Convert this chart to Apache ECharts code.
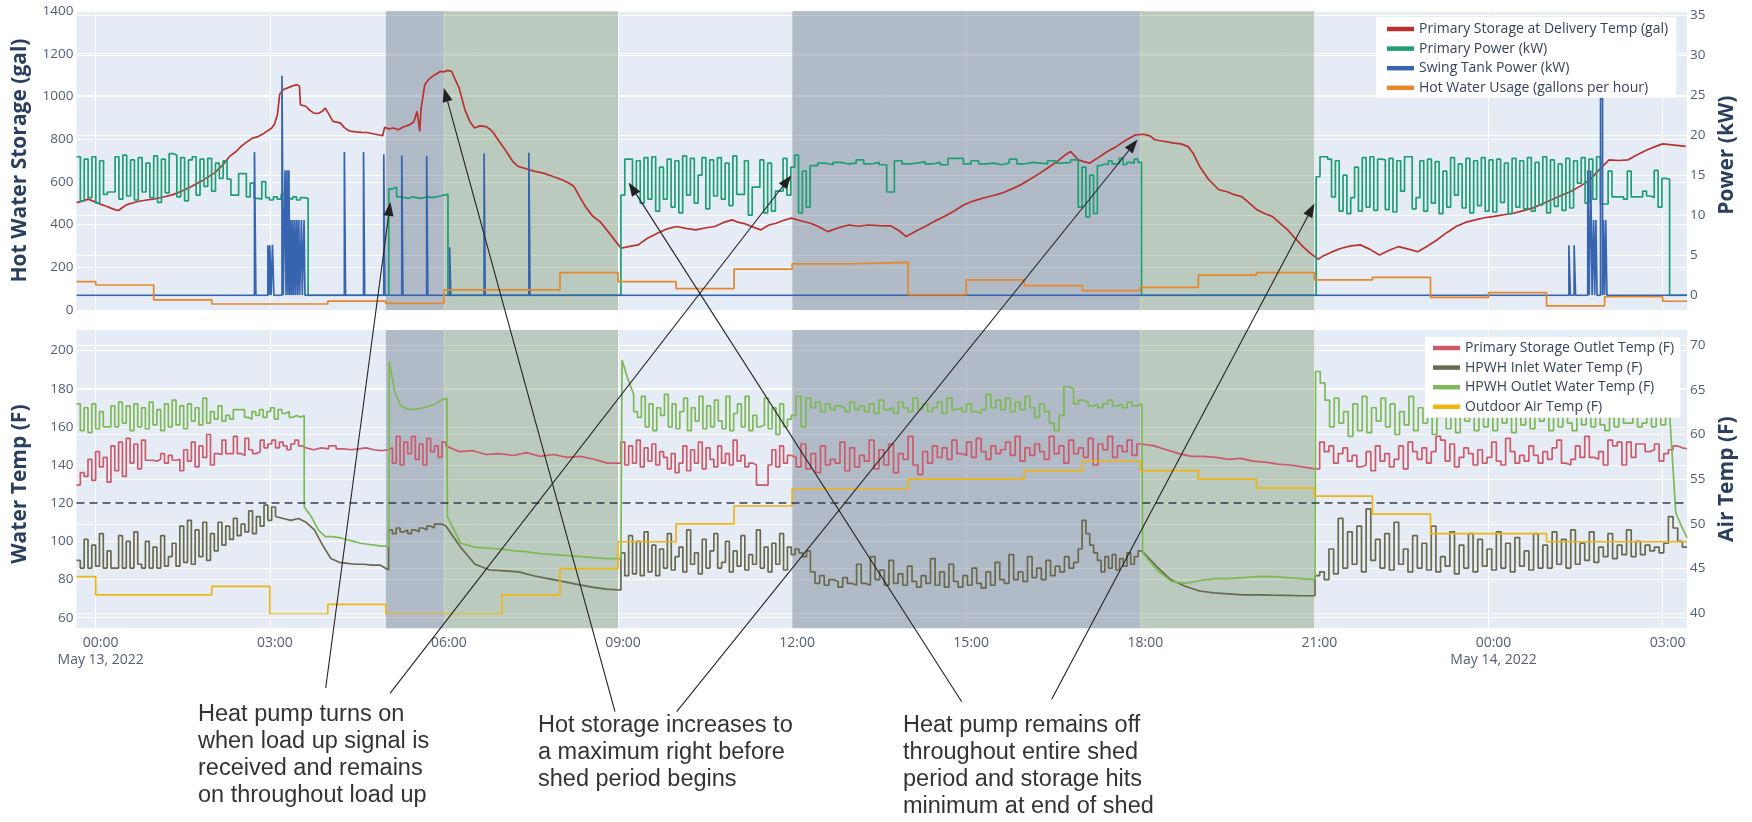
<!DOCTYPE html>
<html><head><meta charset="utf-8">
<script src="https://cdn.jsdelivr.net/npm/echarts@6/dist/echarts.min.js"></script>
<style>html,body{margin:0;padding:0;background:#fff}#c{width:1752px;height:822px}</style>
</head><body><div id="c"></div><script>
// ---------------- DATA (hours since 2022-05-13 00:00) ----------------
const hourTicks = [0, 3, 6, 9, 12, 15, 18, 21, 24, 27];
const dayLabels = { 0: 'May 13, 2022', 24: 'May 14, 2022' };
const darkPeriods = [[5, 6], [12, 18]];
const greenPeriods = [[6, 9], [18, 21]];
const thresholdF = 120;

// [hour, gallons]
const storageGal = [[-0.33,503],[-0.2,512],[-0.132,519],[0.0,505],[0.065,497],[0.16,488],[0.263,477],[0.33,470],[0.395,466],[0.46,480],[0.527,492],[0.62,500],[0.725,508],[0.85,514],[0.988,519],[1.15,528],[1.318,539],[1.48,556],[1.648,578],[1.85,608],[2.044,641],[2.18,676],[2.307,719],[2.42,742],[2.505,766],[2.6,786],[2.703,805],[2.8,812],[2.901,828],[3.033,852],[3.08,870],[3.131,914],[3.17,1010],[3.23,1031],[3.263,1034],[3.36,1046],[3.461,1055],[3.494,1063],[3.51,1050],[3.527,961],[3.56,961],[3.626,953],[3.69,935],[3.758,922],[3.83,920],[3.9,930],[3.956,945],[3.99,930],[4.022,922],[4.088,883],[4.15,880],[4.219,875],[4.28,855],[4.351,841],[4.42,836],[4.483,834],[4.58,832],[4.681,831],[4.8,824],[4.945,816],[4.978,855],[5.05,848],[5.13,852],[5.208,844],[5.3,857],[5.406,867],[5.48,880],[5.538,930],[5.584,836],[5.604,938],[5.67,1055],[5.74,1080],[5.802,1094],[5.87,1105],[5.934,1117],[6.0,1115],[6.066,1122],[6.132,1117],[6.197,1078],[6.263,1039],[6.362,938],[6.45,880],[6.527,852],[6.62,862],[6.725,859],[6.8,845],[6.857,828],[6.95,790],[7.055,750],[7.187,695],[7.28,672],[7.385,664],[7.55,650],[7.714,641],[7.88,625],[8.044,609],[8.15,595],[8.242,578],[8.34,530],[8.439,484],[8.56,440],[8.69,414],[8.85,360],[9.052,289],[9.2,298],[9.348,305],[9.5,335],[9.678,359],[9.85,380],[10.008,391],[10.17,382],[10.337,375],[10.5,384],[10.667,391],[10.82,410],[10.964,422],[11.08,410],[11.195,403],[11.33,388],[11.458,375],[11.6,398],[11.722,406],[11.86,420],[11.986,430],[12.15,418],[12.315,406],[12.46,390],[12.612,367],[12.8,385],[12.975,398],[13.15,392],[13.305,398],[13.5,395],[13.7,394],[13.85,370],[13.964,344],[14.12,368],[14.294,391],[14.45,415],[14.623,438],[14.8,465],[14.953,492],[15.12,510],[15.283,523],[15.45,535],[15.612,547],[15.78,566],[15.942,586],[16.1,612],[16.272,641],[16.44,672],[16.601,703],[16.7,725],[16.799,742],[16.931,703],[17.03,695],[17.129,688],[17.261,711],[17.42,740],[17.59,766],[17.75,795],[17.92,820],[18.052,823],[18.165,815],[18.25,797],[18.4,790],[18.579,781],[18.7,778],[18.824,765],[18.909,734],[19.022,672],[19.18,610],[19.352,563],[19.484,555],[19.62,540],[19.748,531],[19.88,500],[20.011,469],[20.14,452],[20.275,438],[20.4,408],[20.539,375],[20.67,335],[20.802,297],[20.93,265],[21.066,238],[21.132,250],[21.3,272],[21.462,289],[21.63,300],[21.792,305],[21.95,285],[22.121,258],[22.29,280],[22.451,297],[22.62,285],[22.781,273],[22.95,300],[23.11,328],[23.28,362],[23.44,391],[23.6,410],[23.77,422],[23.93,432],[24.099,438],[24.26,446],[24.429,453],[24.6,465],[24.759,477],[24.92,496],[25.088,516],[25.25,536],[25.418,555],[25.58,580],[25.748,609],[25.9,655],[26.077,703],[26.24,700],[26.407,703],[26.57,728],[26.737,750],[26.87,765],[27.001,778],[27.2,772],[27.396,766]];

// segments: [fromHour, toHour, 'h' (held samples) | 'l' (linear samples), values]
const primaryPowerSegs = [
  [-0.331, 3.66, 'h', [17.3,11.8,17.0,12.2,17.3,11.5,16.8,12.6,12.9,12.9,17.3,12.0,17.5,12.4,16.9,11.9,17.2,12.9,16.5,12.2,17.4,11.6,17.0,12.8,17.7,17.5,12.3,17.2,11.8,16.9,17.3,12.5,17.0,13.6,17.1,13.0,16.5,14.6,16.8,14.5,12.5,12.5,15.2,15.2,12.3,14.0,12.1,12.0,14.2,12.2,11.9,12.3,12.0,12.6,12.1,12.0,12.3,11.9,12.2,12.1]],
  [3.66, 5.05, 'h', [0]],
  [5.05, 6.07, 'h', [13.3,13.5,12.3,12.2,12.1,12.3,12.2,12.1,12.2,12.3,12.2,12.3,12.4,12.5,12.6]],
  [6.07, 9.05, 'h', [0]],
  [9.05, 12.31, 'h', [12.5,17.0,17.0,13.0,16.8,11.5,17.2,12.0,17.3,10.5,16.0,12.0,17.0,11.0,16.8,10.3,17.4,12.5,17.1,11.5,15.0,17.2,10.8,16.9,12.4,17.2,12.0,16.5,11.2,17.4,12.6,12.6,16.8,10.0,13.5,13.5,16.9,10.3,16.5,10.5,13.0,13.0,17.1,12.5,16.0,17.5,10.3,15.5,11.0]],
  [12.31, 16.93, 'h', [16.2,16.5,16.3,16.6,16.4,16.5,16.9,16.4,16.6,16.3,12.9,16.8,16.4,16.5,16.7,16.4,16.6,16.3,17.1,17.1,16.4,16.8,16.4,16.5,16.3,16.5,17.0,16.4,16.6,16.5,16.4,16.8,16.5,16.6,16.9]],
  [16.93, 17.26, 'h', [11.0,16.0,9.8,15.0,10.2]],
  [17.26, 18.02, 'h', [16.2,16.4,16.3,16.8,16.4,16.5,17.1,16.3,16.6,16.5,17.0,16.6]],
  [18.02, 21.03, 'h', [0]],
  [21.03, 27.12, 'h', [14.8,17.3,17.3,17.0,12.3,16.8,10.5,15.0,10.2,12.2,16.0,10.5,17.2,11.0,17.3,10.6,17.0,16.9,10.7,17.1,10.4,16.8,13.0,17.3,17.3,10.8,12.2,16.8,10.5,17.0,11.5,16.7,10.2,15.5,11.0,17.2,12.5,16.4,10.9,17.1,10.3,16.8,11.2,17.2,10.5,16.9,10.4,17.0,11.6,16.5,10.2,17.1,11.0,16.8,10.8,17.2,10.5,16.6,11.3,17.3,10.3,16.9,11.1,16.4,10.6,17.1,10.9,16.8,14.0,17.2,11.5,17.0,12.0,17.3,11.4,11.4,15.5,12.3,12.3,12.3,12.0,15.5,12.3,12.3,12.3,13.0,12.4,12.2,15.6,11.0,14.6,14.5]],
  [27.12, 27.42, 'h', [0]]
];

// [hour, kW] held until next entry
const swingPowerSteps = [[-0.331,0],[2.736,17.9],[2.76,0],[2.967,6.25],[2.99,0],[3.0,6.25],[3.022,0],[3.046,6.3],[3.07,0],[3.21,27.4],[3.232,0],[3.263,15.6],[3.28,0],[3.296,15.6],[3.313,0],[3.329,15.6],[3.345,0],[3.362,9.4],[3.377,0],[3.395,9.4],[3.41,0],[3.43,9.4],[3.445,0],[3.465,9.4],[3.48,0],[3.5,9.4],[3.515,0],[3.545,9.4],[3.56,0],[3.59,9.4],[3.606,0],[4.285,17.9],[4.305,0],[4.615,17.9],[4.635,0],[4.964,17.6],[4.984,0],[5.274,17.5],[5.294,0],[5.703,17.4],[5.723,0],[6.099,6.0],[6.119,0],[6.692,17.7],[6.712,0],[7.464,17.8],[7.484,0],[25.385,6.25],[25.41,0],[25.475,6.25],[25.5,0],[25.71,15.6],[25.735,0],[25.76,15.6],[25.785,0],[25.81,9.4],[25.83,0],[25.85,9.4],[25.87,0],[25.93,24.6],[25.965,0],[25.98,9.4],[26.0,0],[26.02,9.4],[26.04,0],[27.42,0]];

// [hour, gallons per hour] held until next entry
const hotWaterUsageSteps = [[-0.331,133],[0,117],[1,47],[2,28],[4,42],[5,31],[6,94],[8,175],[9,133],[10,100],[11,191],[12,216],[13,223],[14,72],[15,141],[16,114],[17,91],[18,106],[19,163],[20,175],[21,141],[22,153],[23,59],[24,81],[25,19],[26,62],[27,41],[27.42,41]];

const outletTempSegs = [
  [-0.331, 0.856, 'h', [129.5,136,134,143,132,147,139,144,131,150,137,152,134,154,141,151,138,153]],
  [0.856, 1.45, 'h', [142.5,142.5,142,143,146,141,145,142.5,143]],
  [1.45, 2.044, 'h', [137,148,142,152,139,150,144,156,140]],
  [2.044, 2.967, 'h', [146,145.5,153,146,146,155,146,145,154,148,146,147,153,149]],
  [2.967, 3.626, 'h', [151,153,149,152,150,148,151,153,150,149]],
  [3.626, 5.047, 'h', [148,149,148.5,150,148.5,148,148.5,149,148,147.5,148]],
  [5.047, 6.034, 'h', [149,141,155,140,152,146,155,143,151,140,154,147,150,144,152]],
  [6.034, 9.05, 'l', [150,147,147.5,145.5,146,145,146.5,144.5,145.5,144,144.5,143,141,141]],
  [9.05, 11.986, 'h', [152,140,150,141,153,139,149,142,151,140,147,144,138,146,136,141,150,137,148,141,152,138,149,143,139,150,141,146,140,153,142,145,139,141,140,129.5,129.5,129.5,140,148,139,150,141,145]],
  [11.986, 18.025, 'h', [144,139,151,138,146,136,150,140,143,141,152,137,149,139,145,142,153,138,148,140,151,136,146,143,155,140,135,147,141,150,144,149,143,153,146,145,152,144,154,147,143,150,146,148,152,145,155,142,149,145,151,147,143,155,146,150,141,153,146,149,144,154,140,151,148,155,144,150,147,153,145,151]],
  [18.025, 21.01, 'l', [150.5,150,148,146,144.5,144.5,144,143,143.5,142,141.5,140.5,140,139,138]],
  [21.01, 27.42, 'h', [138,152,147,150,141,146,149,142,145,139,140,147,137,150,142,146,139,143,150,138,152,147,143,149,141,147,155,153,142,151,139,144,149,146,140,148,141,144,152,142,140,154,147,141,145,142,150,145,141,147,143,149,153,141,140,143,150,144,155,144,143,147,140,153,150,152,140,152,144,151,151,147,148,151,142,146,148,150,149,148.5]]
];

const inletTempSegs = [
  [-0.331, 1.318, 'h', [90,86,101,86,98,87,104,86,95,86,86,103,86,100,86,105,88,86,100,86,97,86,103,87,92]],
  [1.318, 2.307, 'h', [99,87,108,89,111,88,106,92,110,90,104,95,110,98,108]],
  [2.307, 3.098, 'h', [101,112,103,109,105,116,104,113,108,119,111,118]],
  [3.098, 3.626, 'l', [113,112,111,112,110]],
  [3.626, 5.047, 'l', [110,106,98,91,89,88.5,88,88,87.5,87.5,85]],
  [5.047, 6.034, 'h', [106,104,107,105,106,104,106,105,107,106,108,107,109,109,108]],
  [6.034, 9.05, 'l', [109,97,88,85,84.5,84,82,80.5,79,77.5,76,75,74.5]],
  [9.05, 11.986, 'h', [94,82,103,83,100,82,105,84,98,82,96,86,104,85,92,97,84,106,88,94,83,101,86,95,104,86,89,100,84,95,87,103,85,93,88,106,86,97,84,99,88,104,85,97]],
  [11.986, 12.315, 'h', [93,96,94,92,95]],
  [12.315, 16.931, 'h', [84,78,82,77,80,79,76,81,78,77,88,78,77,92,80,85,77,90,78,83,77,87,79,76,82,78,91,77,84,76,88,79,76,82,77,86,78,75.5,84,77,89,80,78,93,80,84,79,92,81,86,80,90,82,87,84,92,86,89]],
  [16.931, 17.261, 'h', [96,111,104,98,94]],
  [17.261, 18.025, 'h', [90,84,92,86,93,85,91,87,94,88,92,95]],
  [18.025, 21.01, 'l', [94,87,80,76.5,74,73,72.5,72,72,71.8,71.7,71.5,71.5]],
  [21.01, 27.42, 'h', [82,84,80,96,83,112,86,105,88,108,84,117,90,101,86,104,85,110,88,96,84,103,86,99,85,108,84,92,87,105,83,98,86,104,84,101,87,96,85,105,86,99,84,102,87,95,85,104,86,98,86,105,88,101,86,106,88,99,90,105,89,97,92,104,91,98,93,106,92,100,93,98,95,97,94,99,113,107,100,97]]
];

const hpwhOutletSegs = [
  [-0.331, 2.307, 'h', [172,158,170,157,172,159,168,160,160,171,160,173,162,171,158,172,160,170,159,173,161,169,158,172,160,174,161,171,159,172,163,170,161,175,162,168,164,171,163,166]],
  [2.307, 3.593, 'h', [164,169,169,169,165,164,168,166,169,165,168,170,164,169,167,168,165,166,165,166]],
  [3.593, 5.047, 'l', [118,113,106,102.5,102.5,102,101,100,99,98.5,98,97.5,97.5]],
  [5.057, 6.05, 'l', [194,178,171,169.5,169,169.5,170,171,172,174,175]],
  [6.06, 9.05, 'l', [113,99,97,96.5,96,95,94.5,93.5,93,92.5,92,91.5,91,91]],
  [9.07, 9.27, 'l', [195,185,177]],
  [9.27, 11.986, 'h', [168,165,176,160,172,158,170,166,177,160,172,159,168,175,158,170,163,176,159,171,160,174,163,159,176,158,167,172,160,176,158,166,160,161,175,159,170,156,172,160,164]],
  [11.986, 18.025, 'h', [166,176,160,175,170,173,168,172,169,171,170,168,173,169,171,168,172,167,174,169,170,167,173,170,168,175,169,172,168,170,173,167,175,169,170,168,172,168,167,169,177,170,174,169,175,168,173,169,176,170,165,172,168,162,158,166,181,180,172,174,173,171,172,170,172,174,171,172,170,173,171,172]],
  [18.04, 21.01, 'l', [94,85,79,78,79.5,80.5,80.5,81,81.5,81.5,81,80.5,80]],
  [21.02, 27.13, 'h', [189,183,174,160,175,162,168,155,172,158,176,157,170,163,175,160,172,156,168,161,176,158,170,162,173,156,165,170,159,174,157,168,163,171,158,175,160,166,158,172,162,170,157,168,161,174,159,166,163,171,158,167,160,173,162,158,170,161,166,160,172,161,158,165,160,171,162,162,168,160,162,170,160,167,161,165]],
  [27.13, 27.42, 'l', [162,115,108,102]]
];

// [hour, F] held until next entry
const airTempSteps = [[-0.331,44.1],[0,42.05],[2,43.0],[3,39.9],[4,41.0],[5,39.9],[7,42.05],[8,45.0],[9,48.0],[10,50.0],[11,52.0],[12,53.9],[14,55.0],[16,55.95],[17,57.0],[18,55.95],[19,55.0],[20,54.0],[21,53.1],[22,51.1],[23,48.9],[25,48.0],[27.42,48.0]];

// ---------------- helpers ----------------
function expand(segs) {
  const out = [];
  segs.forEach(([a, b, mode, vals]) => {
    const n = vals.length;
    if (mode === 'h') {
      const d = (b - a) / n;
      vals.forEach((v, i) => { out.push([a + i * d, v]); out.push([a + (i + 1) * d, v]); });
    } else {
      const d = n > 1 ? (b - a) / (n - 1) : 0;
      vals.forEach((v, i) => out.push([a + i * d, v]));
    }
  });
  return out;
}
function pad2(n) { return (n < 10 ? '0' : '') + n; }

// ---------------- layout / style ----------------
const X_MIN = -0.331, X_MAX = 27.42;
const GL = 76.5, GR = 65;
const TICK_COLOR = '#4f5e76', TITLE_COLOR = '#2a3f5f';
const FONT = 'Open Sans';
const gridLine = { show: true, lineStyle: { color: '#ffffff', width: 1 } };

function xAxis(grid, opts) {
  return Object.assign({
    type: 'value', gridIndex: grid, min: X_MIN, max: X_MAX,
    axisLine: { show: false }, axisTick: { show: false, customValues: hourTicks },
    axisLabel: { show: false, customValues: hourTicks }, splitLine: { show: false }
  }, opts || {});
}
function yAxis(grid, pos, min, max, interval, name, gap) {
  return {
    type: 'value', gridIndex: grid, position: pos, min, max, interval,
    name, nameLocation: 'middle', nameGap: gap,
    nameTextStyle: { fontFamily: FONT, fontSize: 21, fontWeight: 'bold', color: TITLE_COLOR },
    axisLine: { show: false }, axisTick: { show: false },
    axisLabel: { fontFamily: FONT, fontSize: 13.5, color: TICK_COLOR, margin: 3, formatter: v => String(v) },
    splitLine: gridLine
  };
}
const legendBase = {
  orient: 'vertical', icon: 'rect', itemWidth: 27, itemHeight: 4.5, itemGap: 3.6,
  backgroundColor: '#ffffff', selectedMode: false,
  textStyle: { fontFamily: FONT, fontSize: 14, color: '#33435c', lineHeight: 16 }
};
const line = (name, color, xi, yi, data, extra) => Object.assign({
  name, type: 'line', xAxisIndex: xi, yAxisIndex: yi, data, color,
  symbol: 'none', showSymbol: false, lineStyle: { width: 1.7, color }, animation: false
}, extra || {});

const bandData = [
  ...darkPeriods.map(([a, b]) => [{ xAxis: a, itemStyle: { color: 'rgba(112,128,144,0.45)' } }, { xAxis: b }]),
  ...greenPeriods.map(([a, b]) => [{ xAxis: a, itemStyle: { color: 'rgba(100,130,70,0.32)' } }, { xAxis: b }])
];

const chart = echarts.init(document.getElementById('c'), null, { renderer: 'canvas' });
chart.setOption({
  animation: false,
  backgroundColor: '#ffffff',
  grid: [
    { left: GL, right: GR, top: 11, height: 299, show: true, backgroundColor: '#E5ECF6', borderWidth: 0 },
    { left: GL, right: GR, top: 15, height: 280.3, show: false },
    { left: GL, right: GR, top: 330, height: 298.3, show: true, backgroundColor: '#E5ECF6', borderWidth: 0 },
    { left: GL, right: GR, top: 350.5, height: 267.2, show: false },
    { left: GL, right: GR, top: 345, height: 268.3, show: false }
  ],
  xAxis: [
    xAxis(0, { splitLine: gridLine }),
    xAxis(1),
    xAxis(2, {
      splitLine: gridLine,
      axisLabel: {
        show: true, customValues: hourTicks, fontFamily: FONT, fontSize: 14, color: TICK_COLOR,
        margin: 6, lineHeight: 17, padding: [0, 0, 0, 10],
        formatter: v => { const h = ((v % 24) + 24) % 24; const s = pad2(h) + ':00'; return dayLabels[v] ? s + '\n' + dayLabels[v] : s; }
      }
    }),
    xAxis(3),
    xAxis(4)
  ],
  yAxis: [
    yAxis(0, 'left', 0, 1400, 200, 'Hot Water Storage (gal)', 46),
    yAxis(1, 'right', 0, 35, 5, 'Power (kW)', 26),
    { type: 'value', gridIndex: 2, min: 0, max: 1, show: false },
    yAxis(3, 'left', 60, 200, 20, 'Water Temp (F)', 46),
    yAxis(4, 'right', 40, 70, 5, 'Air Temp (F)', 26)
  ],
  legend: [
    Object.assign({}, legendBase, { left: 1376, top: 17, padding: [4, 8, 2, 11],
      data: ['Primary Storage at Delivery Temp (gal)', 'Primary Power (kW)', 'Swing Tank Power (kW)', 'Hot Water Usage (gallons per hour)'] }),
    Object.assign({}, legendBase, { left: 1425, top: 337, padding: [3, 6, 3, 8],
      data: ['Primary Storage Outlet Temp (F)', 'HPWH Inlet Water Temp (F)', 'HPWH Outlet Water Temp (F)', 'Outdoor Air Temp (F)'] })
  ],
  series: [
    { type: 'line', xAxisIndex: 0, yAxisIndex: 0, data: [], silent: true, markArea: { silent: true, data: bandData } },
    { type: 'line', xAxisIndex: 2, yAxisIndex: 2, data: [], silent: true, markArea: { silent: true, data: bandData } },
    line('Primary Storage at Delivery Temp (gal)', '#b8322e', 0, 0, storageGal),
    line('Primary Power (kW)', '#1e9e73', 1, 1, expand(primaryPowerSegs)),
    line('Swing Tank Power (kW)', '#3764af', 1, 1, swingPowerSteps, { step: 'end' }),
    line('Hot Water Usage (gallons per hour)', '#e6872a', 0, 0, hotWaterUsageSteps, { step: 'end' }),
    line('Primary Storage Outlet Temp (F)', '#cd5a69', 3, 3, expand(outletTempSegs)),
    line('HPWH Inlet Water Temp (F)', '#69694b', 3, 3, expand(inletTempSegs)),
    line('HPWH Outlet Water Temp (F)', '#7db955', 3, 3, expand(hpwhOutletSegs)),
    line('Outdoor Air Temp (F)', '#f0b414', 4, 4, airTempSteps, { step: 'end' }),
    { type: 'line', xAxisIndex: 3, yAxisIndex: 3, data: [], silent: true,
      markLine: { silent: true, symbol: 'none', label: { show: false },
        lineStyle: { type: [8, 5], color: '#2f3b52', width: 1.6 }, data: [{ yAxis: thresholdF }] } }
  ]
});

// ---------------- annotations ----------------
const notes = [
  { lines: ['Heat pump turns on', 'when load up signal is', 'received and remains', 'on throughout load up'], x: 198, y: 701,
    arrows: [{ from: [325.7, 688], axes: [1, 1], at: [5.078, 11.66] }, { from: [390, 693.3], axes: [1, 1], at: [11.987, 15.0] }] },
  { lines: ['Hot storage increases to', 'a maximum right before', 'shed period begins'], x: 538, y: 712,
    arrows: [{ from: [615, 711.7], axes: [0, 0], at: [6.0, 1040] }, { from: [676.7, 711.7], axes: [0, 0], at: [17.953, 798] }] },
  { lines: ['Heat pump remains off', 'throughout entire shed', 'period and storage hits', 'minimum at end of shed'], x: 903, y: 712,
    arrows: [{ from: [961.7, 701.7], axes: [1, 1], at: [9.183, 14.1] }, { from: [1051.7, 699.3], axes: [1, 1], at: [21.001, 11.46] }] }
];
const graphics = [];
notes.forEach(n => {
  graphics.push({ type: 'text', z: 100, style: { text: n.lines.join('\n'), x: n.x, y: n.y,
    fontFamily: 'Liberation Sans', fontSize: 23.5, lineHeight: 27, fill: '#333333', verticalAlign: 'top', align: 'left' } });
  n.arrows.forEach(a => {
    const p = chart.convertToPixel({ xAxisIndex: a.axes[0], yAxisIndex: a.axes[1] }, a.at);
    const [tx, ty] = a.from;
    const dx = p[0] - tx, dy = p[1] - ty, len = Math.hypot(dx, dy);
    const ux = dx / len, uy = dy / len, HL = 14, HW = 5;
    const bx = p[0] - ux * HL, by = p[1] - uy * HL;
    graphics.push({ type: 'line', z: 100, shape: { x1: tx, y1: ty, x2: bx, y2: by }, style: { stroke: '#222', lineWidth: 1.1 } });
    graphics.push({ type: 'polygon', z: 100, shape: { points: [[p[0], p[1]], [bx - uy * HW, by + ux * HW], [bx + uy * HW, by - ux * HW]] }, style: { fill: '#222' } });
  });
});
chart.setOption({ graphic: graphics });
</script></body></html>
